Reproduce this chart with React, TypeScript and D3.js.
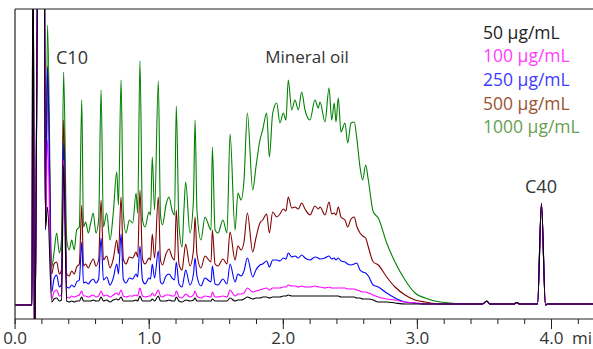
import * as d3 from "d3";

const WIDTH = 593;
const HEIGHT = 349;

// retention time (min), shared by every trace
const times = [
  0, 0.126, 0.133, 0.145, 0.174, 0.216, 0.227, 0.242, 0.273, 0.29,
  0.31, 0.33, 0.346, 0.362, 0.385, 0.404, 0.422, 0.441, 0.459, 0.479,
  0.497, 0.51, 0.526, 0.546, 0.564, 0.583, 0.603, 0.623, 0.641, 0.659,
  0.683, 0.708, 0.732, 0.758, 0.771, 0.79, 0.807, 0.827, 0.852, 0.877,
  0.902, 0.914, 0.931, 0.95, 0.969, 0.999, 1.01, 1.023, 1.04, 1.068,
  1.084, 1.099, 1.125, 1.148, 1.17, 1.189, 1.202, 1.222, 1.245, 1.259,
  1.272, 1.304, 1.33, 1.342, 1.356, 1.386, 1.416, 1.461, 1.471, 1.491,
  1.513, 1.55, 1.58, 1.603, 1.64, 1.662, 1.685, 1.707, 1.732, 1.772,
  1.796, 1.826, 1.846, 1.876, 1.896, 1.921, 1.951, 1.975, 2.0, 2.02,
  2.037, 2.063, 2.087, 2.112, 2.137, 2.162, 2.199, 2.236, 2.261, 2.274,
  2.311, 2.341, 2.361, 2.38, 2.393, 2.41, 2.43, 2.46, 2.48, 2.505,
  2.529, 2.547, 2.572, 2.592, 2.614, 2.634, 2.671, 2.708, 2.771, 2.833,
  2.908, 2.982, 3.057, 3.169, 3.392, 3.486, 3.517, 3.54, 3.72, 3.741,
  3.762, 3.896, 3.925, 3.955, 3.97, 4.4,
];

// detector response per concentration
const c1000 = [
  -1, -1, 400, -60, 400, 400, 80, 279, 37, 51,
  71, 51, 64, 232, 64, 54, 64, 54, 74, 77,
  204, 77, 82, 71, 81, 91, 71, 84, 214, 77,
  91, 64, 91, 132, 99, 224, 91, 71, 84, 81,
  111, 91, 243, 84, 77, 92, 89, 147, 94, 223,
  89, 79, 99, 107, 94, 89, 198, 79, 57, 94,
  122, 71, 104, 184, 94, 64, 87, 74, 157, 74,
  71, 84, 71, 170, 74, 111, 104, 124, 191, 114,
  137, 164, 174, 191, 147, 191, 201, 181, 191, 184,
  224, 194, 204, 194, 212, 194, 184, 204, 196, 202,
  182, 216, 184, 201, 182, 206, 172, 181, 161, 181,
  182, 167, 137, 124, 139, 124, 92, 86, 61, 42,
  24, 11, 6, 2, 0, 0, 3, 0, 0, 1.5,
  0, 0, 98, -1, 0, 0,
];
const c500 = [
  -1, -1, 400, -60, 400, 400, 78, 238, 30, 40,
  42, 30, 34, 184, 30, 28, 33, 30, 37, 40,
  99, 38, 40, 36, 41, 45, 38, 44, 104, 44,
  48, 36, 45, 64, 50, 107, 45, 40, 47, 46,
  52, 47, 114, 45, 40, 46, 44, 70, 46, 107,
  44, 39, 50, 55, 47, 44, 94, 40, 34, 48,
  60, 38, 54, 87, 50, 36, 48, 42, 74, 40,
  38, 45, 40, 72, 44, 58, 54, 62, 91, 52,
  66, 81, 84, 90, 71, 92, 87, 90, 95, 93,
  107, 96, 97, 95, 101, 95, 89, 98, 95, 97,
  89, 102, 90, 91, 89, 97, 87, 84, 77, 85,
  87, 78, 71, 68, 66, 57, 42, 39, 27, 17,
  9, 4, 2, 0, 0, 0, 3, 0, 0, 1.5,
  0, 0, 100, -1, 0, 0,
];
const c250 = [
  -1, -1, 400, -60, 400, 400, 74, 236, 12, 25,
  29, 17, 20, 161, 17, 16, 19, 17, 22, 24,
  62, 21, 22, 20, 23, 25, 21, 25, 66, 24,
  27, 19, 26, 40, 30, 70, 25, 21, 26, 25,
  30, 27, 58, 24, 20, 26, 25, 40, 26, 53,
  22, 20, 28, 30, 26, 24, 42, 20, 17, 26,
  34, 19, 30, 46, 28, 18, 26, 22, 38, 20,
  19, 25, 20, 40, 22, 30, 28, 33, 46, 27,
  34, 39, 40, 43, 37, 44, 44, 43, 46, 45,
  51, 47, 48, 46, 49, 46, 44, 47, 46, 45,
  46, 48, 45, 46, 44, 46, 43, 42, 40, 39,
  40, 41, 34, 32, 31, 28, 19, 17, 11, 6,
  2, 1, 0, 0, 0, 0, 3, 0, 0, 1.5,
  0, 0, 100, -1, 0, 0,
];
const c100 = [
  -1, -1, 400, -60, 400, 400, 76, 164, 5, 12,
  14, 8, 9, 144, 7, 6, 8, 7, 8, 9,
  13, 8, 8, 7, 8, 9, 7, 8, 13, 8,
  9, 7, 9, 11, 9, 14, 8, 7, 8, 8,
  9, 8, 16, 8, 7, 8, 8, 11, 8, 14,
  8, 7, 9, 9, 8, 8, 13, 7, 6, 8,
  10, 7, 9, 13, 8, 6, 8, 7, 12, 7,
  7, 8, 7, 14, 8, 10, 10, 11, 16, 12,
  13, 14, 15, 16, 14, 16, 16, 16, 17, 17,
  19, 18, 18, 17, 18, 17, 17, 18, 17, 17,
  16, 17, 16, 16, 16, 16, 16, 16, 15, 15,
  15, 14, 13, 12, 12, 11, 9, 7, 5, 4,
  2, 1, 0, 0, 0, 0, 3, 0, 0, 1.5,
  0, 0, 100, -1, 0, 0,
];
const c50 = [
  -1, -1, 400, -60, 400, 400, 76, 97, 2, 5,
  6, 3, 4, 139, 3, 2, 3, 2, 3, 3,
  7, 3, 3, 3, 3, 4, 3, 3, 7, 3,
  4, 2, 4, 5, 4, 7, 3, 3, 3, 3,
  4, 3, 8, 3, 3, 3, 3, 5, 3, 8,
  3, 3, 3, 4, 3, 3, 7, 3, 2, 3,
  4, 3, 4, 6, 3, 3, 3, 3, 5, 3,
  3, 3, 3, 6, 3, 4, 4, 5, 7, 5,
  6, 6, 7, 7, 6, 7, 7, 7, 8, 8,
  9, 8, 8, 8, 8, 8, 8, 8, 8, 8,
  8, 8, 8, 8, 8, 8, 7, 7, 7, 7,
  7, 6, 6, 5, 5, 5, 4, 2, 2, 1,
  0, 0, 0, 0, 0, 0, 3, 0, 0, 1.5,
  0, 0, 101, -1, 0, 0,
];

const seriesLabels = ["50 µg/mL", "100 µg/mL", "250 µg/mL", "500 µg/mL", "1000 µg/mL"];
const majorTicks = [0, 1, 2, 3, 4];
const tickLabels = ["0.0", "1.0", "2.0", "3.0", "4.0"];

const lineColors = ["#000000", "#ff00ff", "#0000ff", "#800000", "#008000"];
const textColors = ["#222222", "#ff3cff", "#3c3cff", "#9c5230", "#68a050"];
const FONT = "'Open Sans', 'Noto Sans', sans-serif";

export default function App() {
  const left = 15;
  const top = 9;
  const bottom = 319;
  const right = WIDTH;

  const x = d3.scaleLinear().domain([0, 4]).range([15.1, 551.5]);
  const y = d3.scaleLinear().domain([0, 295]).range([304, 9]);

  const traces = [c50, c100, c250, c500, c1000];
  const line = d3
    .line<[number, number]>()
    .x((d) => x(d[0]))
    .y((d) => y(d[1]))
    .curve(d3.curveMonotoneX);

  const minorTicks = d3.range(0, 4.31, 0.2);

  return (
    <div style={{ position: "absolute", left: 0, top: 0 }}>
      <svg width={WIDTH} height={HEIGHT} style={{ display: "block", background: "#fff" }}>
        <defs>
          <clipPath id="plot">
            <rect x={left} y={top} width={right - left} height={bottom - top} />
          </clipPath>
        </defs>

        <g clipPath="url(#plot)">
          {traces
            .map((vals, i) => ({ vals, i }))
            .reverse()
            .map(({ vals, i }) => (
              <path
                key={i}
                d={line(times.map((t, k) => [t, vals[k]] as [number, number])) ?? ""}
                fill="none"
                stroke={lineColors[i]}
                strokeWidth={1.1}
                strokeLinejoin="round"
              />
            ))}
        </g>

        <line x1={left} x2={right} y1={top} y2={top} stroke="#222" strokeWidth={1.2} />
        <line x1={left} x2={left} y1={top} y2={bottom} stroke="#222" strokeWidth={1.2} />
        <line x1={left} x2={right} y1={bottom} y2={bottom} stroke="#222" strokeWidth={1.2} />

        {minorTicks.map((t) => (
          <line key={t} x1={x(t)} x2={x(t)} y1={bottom} y2={bottom + 5} stroke="#222" strokeWidth={1} />
        ))}
        {majorTicks.map((t, i) => (
          <g key={t}>
            <line x1={x(t)} x2={x(t)} y1={bottom} y2={bottom + 10} stroke="#222" strokeWidth={1} />
            <text
              x={x(t)}
              y={344}
              textAnchor="middle"
              fontFamily={FONT}
              fontSize={17}
              fill="#333"
            >
              {tickLabels[i]}
            </text>
          </g>
        ))}
        <text x={572} y={344} fontFamily={FONT} fontSize={17} fill="#333">
          min
        </text>

        <text x={72} y={64} textAnchor="middle" fontFamily={FONT} fontSize={18} fill="#333">
          C10
        </text>
        <text x={307} y={63} textAnchor="middle" fontFamily={FONT} fontSize={17} fill="#333">
          Mineral oil
        </text>
        <text x={541} y={193} textAnchor="middle" fontFamily={FONT} fontSize={18} fill="#333">
          C40
        </text>

        {seriesLabels.map((s, i) => (
          <text key={s} x={483} y={38.5 + i * 23.7} fontFamily={FONT} fontSize={17.5} fill={textColors[i]}>
            {s}
          </text>
        ))}
      </svg>
    </div>
  );
}
